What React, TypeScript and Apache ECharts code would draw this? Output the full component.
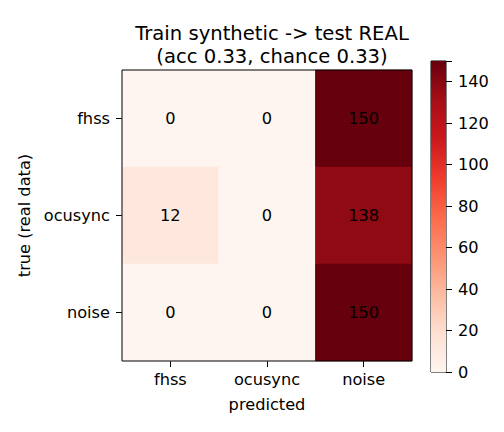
import React, { useEffect, useRef } from "react";
import * as echarts from "echarts";

const predictedLabels = ["fhss", "ocusync", "noise"];
const trueLabels = ["fhss", "ocusync", "noise"];
// rows = true class, columns = predicted class
const counts: number[][] = [
  [0, 0, 150],
  [12, 0, 138],
  [0, 0, 150],
];
const colorbarMin = 0;
const colorbarMax = 150;
const colorbarTicks = [0, 20, 40, 60, 80, 100, 120, 140];
const redsStops = [
  "#fff5f0",
  "#fee0d2",
  "#fcbba1",
  "#fc9272",
  "#fb6a4a",
  "#ef3b2c",
  "#cb181d",
  "#a50f15",
  "#67000d",
];

const FONT = "DejaVu Sans";
const FS = 16.2;

export default function App() {
  const ref = useRef<HTMLDivElement>(null);
  useEffect(() => {
    if (!ref.current) return;
    const chart = echarts.init(ref.current, null, { renderer: "svg" });
    const data: [number, number, number][] = [];
    counts.forEach((row, r) => row.forEach((v, c) => data.push([c, r, v])));

    const grad = new echarts.graphic.LinearGradient(
      0,
      1,
      0,
      0,
      redsStops.map((c, i) => ({ offset: i / (redsStops.length - 1), color: c }))
    );

    chart.setOption({
      animation: false,
      backgroundColor: "#ffffff",
      textStyle: { fontFamily: FONT },
      title: {
        text: "Train synthetic -> test REAL\n(acc 0.33, chance 0.33)",
        left: 267,
        top: 17,
        textAlign: "center",
        textStyle: {
          fontFamily: FONT,
          fontSize: 19.6,
          fontWeight: "normal",
          color: "#000",
          lineHeight: 23,
        },
      },
      grid: [
        {
          left: 122,
          top: 70,
          width: 290,
          height: 291,
          show: true,
          borderColor: "#000",
          borderWidth: 1,
          backgroundColor: "transparent",
          z: 5,
        },
        {
          left: 431,
          top: 61,
          width: 15,
          height: 311,
          show: true,
          borderColor: "#000",
          borderWidth: 1,
          backgroundColor: "transparent",
        },
      ],
      xAxis: [
        {
          gridIndex: 0,
          type: "category",
          data: predictedLabels,
          position: "bottom",
          name: "predicted",
          nameLocation: "middle",
          nameGap: 35,
          nameTextStyle: { fontFamily: FONT, fontSize: FS, color: "#000" },
          axisLine: { show: false },
          axisTick: {
            show: true,
            alignWithLabel: true,
            length: 6,
            lineStyle: { color: "#000" },
          },
          axisLabel: { fontFamily: FONT, fontSize: FS, color: "#000", margin: 10 },
          splitLine: { show: false },
        },
        {
          gridIndex: 1,
          type: "category",
          data: [""],
          show: false,
        },
      ],
      yAxis: [
        {
          gridIndex: 0,
          type: "category",
          data: trueLabels,
          inverse: true,
          name: "true (real data)",
          nameLocation: "middle",
          nameGap: 88,
          nameTextStyle: { fontFamily: FONT, fontSize: FS, color: "#000" },
          axisLine: { show: false },
          axisTick: {
            show: true,
            alignWithLabel: true,
            length: 6,
            lineStyle: { color: "#000" },
          },
          axisLabel: { fontFamily: FONT, fontSize: FS, color: "#000", margin: 12 },
          splitLine: { show: false },
        },
        {
          gridIndex: 1,
          type: "value",
          position: "right",
          min: colorbarMin,
          max: colorbarMax,
          interval: 20,
          axisLine: { show: false },
          axisTick: { show: true, length: 6, lineStyle: { color: "#000" } },
          axisLabel: {
            fontFamily: FONT,
            fontSize: FS,
            color: "#000",
            margin: 12,
            formatter: (v: number) =>
              colorbarTicks.includes(v) ? String(v) : "",
          },
          splitLine: { show: false },
        },
      ],
      visualMap: {
        show: false,
        seriesIndex: 0,
        min: colorbarMin,
        max: colorbarMax,
        inRange: { color: redsStops },
      },
      series: [
        {
          type: "heatmap",
          xAxisIndex: 0,
          yAxisIndex: 0,
          data,
          label: {
            show: true,
            fontFamily: FONT,
            fontSize: FS,
            color: "#000",
          },
          itemStyle: { borderWidth: 0 },
          emphasis: { disabled: true },
        },
        {
          type: "bar",
          xAxisIndex: 1,
          yAxisIndex: 1,
          data: [colorbarMax],
          barWidth: "100%",
          itemStyle: { color: grad },
          silent: true,
        },
      ],
    });
    return () => chart.dispose();
  }, []);
  return <div ref={ref} style={{ width: 504, height: 432, margin: -8 }} />;
}
